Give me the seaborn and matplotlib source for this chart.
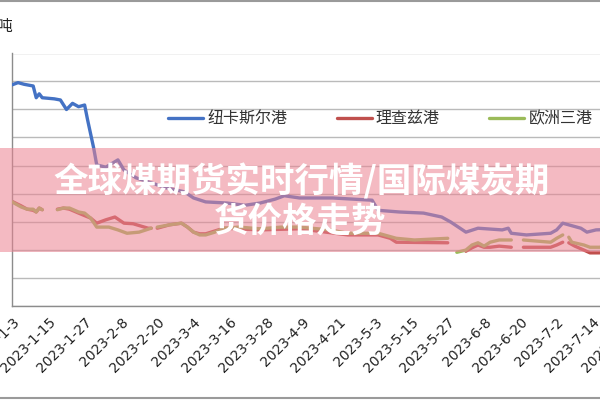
import numpy as np
import pandas as pd
import matplotlib
matplotlib.use("Agg")
import matplotlib.pyplot as plt
from matplotlib.patches import Rectangle
from matplotlib.lines import Line2D
import seaborn as sns

# ---------------- data ----------------
ncl_dates = ["2023-01-03", "2023-01-05", "2023-01-07", "2023-01-10", "2023-01-11", "2023-01-12",
             "2023-01-13", "2023-01-17", "2023-01-19", "2023-01-21", "2023-01-23", "2023-01-25",
             "2023-01-27", "2023-01-28", "2023-01-30", "2023-01-31", "2023-02-03", "2023-02-07",
             "2023-02-09", "2023-02-13", "2023-02-18", "2023-02-23", "2023-03-01", "2023-03-04",
             "2023-03-08", "2023-03-15", "2023-03-21", "2023-03-26", "2023-03-31", "2023-04-03",
             "2023-04-08", "2023-04-19", "2023-05-02", "2023-05-04", "2023-05-11", "2023-05-19",
             "2023-05-25", "2023-05-28", "2023-06-02", "2023-06-06", "2023-06-14", "2023-06-16",
             "2023-06-17", "2023-06-22", "2023-06-30", "2023-07-02", "2023-07-04", "2023-07-06",
             "2023-07-10", "2023-07-12", "2023-07-15", "2023-07-20", "2023-07-27"]
ncl_vals = [394, 398, 395, 392, 371, 378,
            371, 369, 367, 350, 361, 355,
            358, 331, 281, 251, 247, 260,
            242, 228, 219, 210, 203, 192,
            185, 183, 179, 183, 190, 196,
            192, 192, 188, 170, 167, 165,
            158, 149, 131, 138, 135, 138,
            129, 126, 129, 135, 147, 144,
            138, 131, 135, 136, 134]

rb_dates = ["2023-01-03", "2023-01-06", "2023-01-08", "2023-01-10", "2023-01-11", "2023-01-12",
            "2023-01-13", "2023-01-15", "2023-01-18", "2023-01-20", "2023-01-22", "2023-01-25",
            "2023-01-29", "2023-01-31", "2023-02-03", "2023-02-06", "2023-02-09", "2023-02-12",
            "2023-02-17", "2023-02-18", "2023-02-19", "2023-02-20", "2023-02-24", "2023-02-28",
            "2023-03-02", "2023-03-04", "2023-03-06", "2023-03-08", "2023-03-11", "2023-03-14",
            "2023-03-26", "2023-04-08", "2023-04-24", "2023-05-04", "2023-05-08", "2023-05-10",
            "2023-05-27", "2023-05-29", "2023-06-02", "2023-06-04", "2023-06-06", "2023-06-08",
            "2023-06-10", "2023-06-13", "2023-06-17", "2023-06-19", "2023-06-21", "2023-06-28",
            "2023-06-30", "2023-07-02", "2023-07-04", "2023-07-05", "2023-07-06", "2023-07-08",
            "2023-07-11", "2023-07-13", "2023-07-16", "2023-07-21"]
rb_vals = [186, 178, 172, 170, 167, 174,
           171, None, 172, 174, 172, 165,
           156, 147, 153, 158, 147, 146,
           138, 138, None, 138, 144, 147,
           140, 131, 128, 128, 133, 138,
           135, 137, 126, 126, 120, 113,
           112, None, 97, 103, 108, 104,
           104, 106, 104, None, 104, 104,
           104, 108, 113, None, 112, 106,
           99, 94, 94, 95]

ara_dates = ["2023-01-03", "2023-01-06", "2023-01-08", "2023-01-10", "2023-01-11", "2023-01-12",
             "2023-01-13", "2023-01-15", "2023-01-18", "2023-01-20", "2023-01-22", "2023-01-25",
             "2023-01-27", "2023-01-29", "2023-01-31", "2023-02-04", "2023-02-07", "2023-02-10",
             "2023-02-14", "2023-02-18", "2023-02-19", "2023-02-20", "2023-02-24", "2023-02-28",
             "2023-03-02", "2023-03-04", "2023-03-06", "2023-03-08", "2023-03-11", "2023-03-14",
             "2023-03-19", "2023-03-26", "2023-04-02", "2023-04-08", "2023-04-12", "2023-04-18",
             "2023-04-24", "2023-05-04", "2023-05-10", "2023-05-16", "2023-05-27", "2023-05-29",
             "2023-05-30", "2023-06-02", "2023-06-04", "2023-06-06", "2023-06-08", "2023-06-10",
             "2023-06-13", "2023-06-17", "2023-06-19", "2023-06-21", "2023-06-30", "2023-07-02",
             "2023-07-04", "2023-07-05", "2023-07-06", "2023-07-07", "2023-07-11", "2023-07-13",
             "2023-07-16", "2023-07-21"]
ara_vals = [185, 176, 172, 172, 167, 174,
            171, None, 171, 174, 174, 167,
            165, 156, 140, 140, 135, 129,
            131, 138, None, 140, 144, 147,
            140, 131, 126, 126, 131, 138,
            140, 137, 140, 140, 138, 135,
            129, 129, 120, 117, 120, None,
            95, 99, 108, 112, 106, 113,
            117, 117, None, 117, 113, 120,
            126, None, 122, 113, 108, 104,
            104, 106]

series_names = ["纽卡斯尔港", "理查兹港", "欧洲三港"]
series_colors = ["#4472c4", "#c0504d", "#9bbb59"]
tick_labels = ["2023-1-3", "2023-1-15", "2023-1-27", "2023-2-8", "2023-2-20", "2023-3-4",
               "2023-3-16", "2023-3-28", "2023-4-9", "2023-4-21", "2023-5-3", "2023-5-15",
               "2023-5-27", "2023-6-8", "2023-6-20", "2023-7-2", "2023-7-14", "2023-7-26"]
unit_label = "美元/吨"
title_lines = ["全球煤期货实时行情/国际煤炭期", "货价格走势"]

# ---------------- drawing ----------------
sns.set_theme(style="white")
plt.rcParams["font.family"] = ["Noto Sans CJK SC", "DejaVu Sans"]

W, H = 600, 400
fig = plt.figure(figsize=(6, 4), dpi=100)
fig.patch.set_facecolor("white")

PX_PER_DAY = 3.026
x0_px, ybot_px, ytop_px = 12, 305.5, 53.5
n_days = 214
ax = fig.add_axes([x0_px / W, 1 - ybot_px / H,
                   n_days * PX_PER_DAY / W, (ybot_px - ytop_px) / H])
ax.set_facecolor("white")

def segments(dates, vals):
    df = pd.DataFrame({"date": pd.to_datetime(dates), "val": vals})
    df["val"] = pd.to_numeric(df["val"])
    seg = df["val"].isna().cumsum()
    out = []
    for _, g in df.groupby(seg):
        g = g.dropna()
        if len(g):
            out.append(g)
    return out

LW = 2.4
for (d, v), name, col, z in zip([(ncl_dates, ncl_vals), (rb_dates, rb_vals), (ara_dates, ara_vals)],
                                series_names, series_colors, [3, 2, 4]):
    for g in segments(d, v):
        sns.lineplot(data=g, x="date", y="val", ax=ax, color=col, linewidth=LW,
                     estimator=None, sort=False, legend=False, zorder=z)

start = pd.Timestamp("2023-01-03")
ax.set_xlim(start, start + pd.Timedelta(days=n_days))
ax.set_ylim(0, 450)
ax.set_xlabel("")
ax.set_ylabel("")

tick_dates = [pd.Timestamp(t) for t in tick_labels]
ax.set_xticks(tick_dates)
ax.set_xticklabels(tick_labels, rotation=45, ha="right", rotation_mode="anchor",
                   fontsize=10, family="DejaVu Sans", color="#222222")
ax.set_yticks(np.arange(0, 451, 50))
ax.set_yticklabels([])
ax.tick_params(axis="x", direction="out", length=4, width=1, color="#8c8c8c", pad=3)
ax.tick_params(axis="y", direction="out", length=5, width=1, color="#8c8c8c")
ax.yaxis.grid(True, color="#bababa", linewidth=1)
ax.xaxis.grid(False)
for s in ["top", "right"]:
    ax.spines[s].set_visible(False)
for s in ["left", "bottom"]:
    ax.spines[s].set_color("#8c8c8c")
    ax.spines[s].set_linewidth(1)

# legend
handles = [Line2D([], [], color=c, linewidth=LW) for c in series_colors]
fig.legend(handles, series_names, loc="center left", bbox_to_anchor=(168 / W, 1 - 119 / H),
           bbox_transform=fig.transFigure, ncol=3, frameon=False, fontsize=11.5,
           handlelength=2.2, handletextpad=0.25, columnspacing=3.1, borderpad=0,
           borderaxespad=0, labelcolor="#333333")

# unit label (partly cut off at the left edge)
fig.text(13 / W, 1 - 26 / H, unit_label, ha="right", va="center", fontsize=11, color="#222222")

# pink banner and title
fig.patches.append(Rectangle((0, 1 - 252 / H), 1, 104 / H, transform=fig.transFigure,
                             facecolor="#eb8291", alpha=0.55, edgecolor="none", zorder=5))
fig.text(0.502, 1 - 181 / H, title_lines[0], ha="center", va="center", fontsize=24.8,
         fontweight="heavy", color="white", zorder=6)
fig.text(0.5, 1 - 221 / H, title_lines[1], ha="center", va="center", fontsize=24.8,
         fontweight="heavy", color="white", zorder=6)

# outer chart border (top and bottom visible)
fig.add_artist(Line2D([0, 1], [1 - 1 / H, 1 - 1 / H], transform=fig.transFigure,
                      color="#9a9a9a", linewidth=1.5))
fig.add_artist(Line2D([0, 1], [1 - 398 / H, 1 - 398 / H], transform=fig.transFigure,
                      color="#9a9a9a", linewidth=1.5))

fig.savefig("out.png", dpi=100)
